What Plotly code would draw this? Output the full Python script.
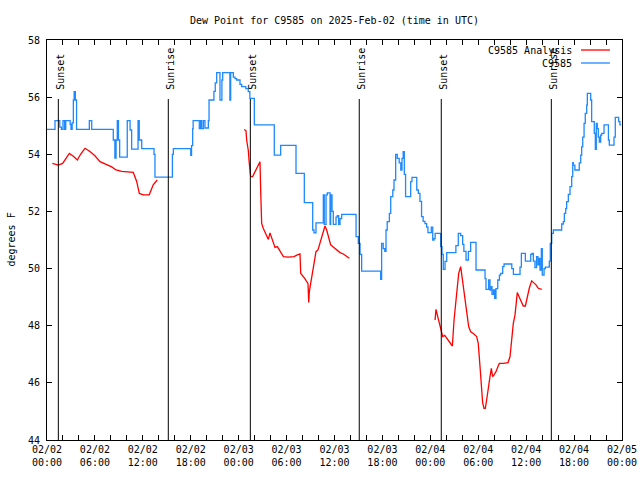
import datetime as dt
import plotly.graph_objects as go

# ---- data (hours since 2025-02-02 00:00 UTC, dew point in deg F) ----
blue_hours = [
    0.0, 1.0, 1.6, 1.8, 2.0, 2.2, 2.35, 2.9, 3.0, 3.15,
    3.3, 3.4, 3.55, 3.7, 5.3, 5.6, 8.3, 8.5, 8.65, 8.8,
    8.95, 9.1, 10.05, 10.4, 10.6, 11.4, 11.55, 11.86, 13.4, 13.52,
    15.7, 15.82, 18.0, 18.1, 18.24, 18.3, 19.07, 19.24, 19.37, 19.58,
    19.78, 20.2, 20.29, 20.9, 21.07, 21.25, 21.66, 21.9, 22.0, 22.9,
    23.0, 23.33, 23.54, 23.75, 24.17, 24.38, 24.9, 25.2, 25.4, 25.96,
    28.46, 29.26, 31.18, 32.22, 33.27, 33.43, 33.68, 34.6, 34.72, 34.94,
    35.1, 35.44, 35.52, 35.69, 35.85, 36.19, 36.35, 36.52, 36.69, 36.9,
    38.7, 38.98, 39.2, 39.4, 41.78, 41.9, 42.1, 42.3, 42.45, 42.6,
    42.87, 43.04, 43.3, 43.45, 43.66, 43.86, 44.1, 44.3, 44.45, 44.6,
    44.74, 44.9, 45.54, 45.7, 46.3, 46.5, 46.7, 46.9, 47.1, 47.33,
    47.54, 47.7, 48.12, 48.3, 48.46, 48.6, 49.3, 49.46, 49.62, 49.84,
    50.05, 51.2, 51.5, 51.8, 52.05, 52.2, 52.47, 52.76, 53.05, 53.72,
    54.85, 54.97, 55.3, 55.47, 55.64, 55.72, 55.9, 56.06, 56.22, 56.44,
    56.65, 56.81, 57.06, 57.23, 58.2, 58.4, 59.23, 59.4, 59.9, 60.57,
    60.73, 60.9, 61.1, 61.3, 61.48, 61.6, 61.73, 61.9, 62.02, 62.24,
    62.4, 62.9, 63.02, 63.2, 63.4, 64.45, 64.65, 64.78, 64.95, 65.07,
    65.28, 65.49, 65.7, 65.83, 65.9, 66.1, 66.65, 66.83, 66.95, 67.08,
    67.25, 67.4, 67.58, 67.66, 68.08, 68.2, 68.53, 68.66, 68.78, 68.9,
    69.03, 69.16, 69.33, 69.46, 69.75, 70.3, 70.41, 71.0, 71.16, 71.58,
    71.74, 71.9,
]
blue_dewpt = [
    54.87, 55.18, 54.95, 54.87, 55.18, 54.87, 55.18, 55.05, 54.87, 55.1,
    55.9, 56.19, 55.9, 54.87, 55.18, 54.87, 54.5, 53.87, 54.5, 55.18,
    54.5, 53.9, 55.18, 54.85, 54.18, 55.18, 54.5, 54.2, 54.0, 53.2,
    54.0, 54.2, 53.96, 54.3, 54.9, 55.18, 54.9, 55.18, 54.9, 55.18,
    54.92, 55.18, 55.9, 56.2, 56.5, 56.86, 55.9, 56.6, 56.86, 55.9,
    56.86, 56.7, 56.65, 56.6, 56.45, 56.37, 56.3, 56.19, 55.96, 55.03,
    53.97, 54.31, 53.33, 52.31, 51.35, 51.25, 51.6, 52.58, 51.55, 52.58,
    52.65, 51.55, 52.58, 52.0, 51.55, 51.8, 51.85, 51.55, 51.75, 51.9,
    51.12, 50.88, 50.5, 49.91, 49.62, 50.88, 50.7, 50.6, 51.35, 51.64,
    51.93, 52.52, 52.75, 53.1, 54.0, 53.86, 53.7, 53.45, 53.86, 54.09,
    53.3, 52.52, 53.04, 53.19, 52.75, 52.63, 52.35, 51.82, 51.65, 51.57,
    51.45, 51.26, 51.45, 51.0, 51.05, 51.23, 50.77, 50.5, 49.97, 50.25,
    50.56, 50.8, 51.23, 51.15, 50.85, 50.6, 50.3, 50.6, 50.92, 49.95,
    49.65, 49.27, 49.6, 49.25, 49.37, 49.1, 49.25, 48.96, 49.3, 49.6,
    49.77, 49.83, 50.07, 50.16, 50.0, 49.8, 50.05, 50.53, 50.26, 50.5,
    50.53, 50.26, 50.03, 50.42, 50.13, 50.36, 49.95, 50.7, 49.77, 50.0,
    50.05, 50.26, 50.88, 51.23, 51.35, 51.56, 51.64, 51.93, 52.1, 52.34,
    52.6, 52.87, 53.22, 53.71, 53.62, 53.45, 53.7, 53.97, 54.26, 54.6,
    55.08, 55.43, 55.72, 56.13, 55.9, 55.14, 54.73, 54.17, 55.08, 54.9,
    54.6, 54.43, 54.67, 54.73, 55.03, 54.5, 54.32, 54.6, 55.29, 55.14,
    55.03, 55.03,
]

red_hours_1 = [0.67, 1.42, 1.96, 2.8, 3.3, 3.8, 4.2, 4.76, 5.38, 6.0,
               6.64, 7.47, 8.1, 8.64, 9.35, 10.8, 11.23, 11.56, 12.06, 12.8,
               13.3, 13.8]
red_dewpt_1 = [53.68, 53.62, 53.68, 54.03, 53.93, 53.8, 54.0, 54.21, 54.1, 53.95,
               53.74, 53.65, 53.56, 53.45, 53.4, 53.37, 53.05, 52.63, 52.58, 52.58,
               52.93, 53.1]
red_hours_2 = [24.7, 24.92, 25.0, 25.2, 25.33, 25.5, 25.75, 26.05, 26.46, 26.67,
               26.76, 26.88, 27.09, 27.3, 27.5, 27.72, 27.92, 28.13, 28.34, 28.55,
               28.84, 29.1, 29.39, 29.6, 30.2, 30.93, 31.35, 31.68, 31.77, 32.1,
               32.3, 32.52, 32.68, 32.77, 32.85, 33.02, 33.27, 33.43, 33.68, 33.93,
               34.18, 34.4, 34.6, 34.81, 35.02, 35.23, 35.52, 35.77, 36.06, 36.35,
               36.69, 37.1, 37.44, 37.86]
red_dewpt_2 = [54.87, 54.82, 54.5, 54.15, 53.68, 53.22, 53.22, 53.4, 53.63, 53.74,
               52.69, 51.58, 51.4, 51.28, 51.17, 51.02, 51.25, 51.05, 50.88, 50.74,
               50.77, 50.65, 50.53, 50.42, 50.4, 50.42, 50.48, 50.51, 49.83, 49.74,
               49.65, 49.54, 49.48, 48.81, 49.2, 49.48, 49.95, 50.3, 50.59, 50.65,
               50.88, 51.05, 51.28, 51.49, 51.35, 51.12, 50.83, 50.77, 50.71, 50.63,
               50.56, 50.51, 50.44, 50.36]
red_hours_3 = [48.59, 48.71, 48.88, 49.05, 49.21, 49.38, 49.55, 49.8, 50.05, 50.3,
               50.55, 50.76, 50.97, 51.22, 51.38, 51.55, 51.8, 52.05, 52.3, 52.55,
               52.8, 53.05, 53.38, 53.8, 54.0, 54.22, 54.43, 54.55, 54.72, 54.88,
               55.05, 55.26, 55.47, 55.64, 55.8, 55.97, 56.22, 56.47, 56.64, 57.14,
               57.73, 57.98, 58.19, 58.39, 58.6, 58.89, 59.14, 59.4, 59.64, 59.9,
               60.14, 60.39, 60.69, 60.98, 61.23, 61.52, 61.95]
red_dewpt_3 = [48.2, 48.57, 48.37, 48.2, 48.03, 47.85, 47.62, 47.66, 47.56, 47.48,
               47.38, 47.29, 48.2, 48.9, 49.37, 49.83, 50.07, 49.54, 48.9, 48.43,
               47.97, 47.79, 47.73, 47.62, 47.38, 46.57, 45.87, 45.31, 45.11, 45.11,
               45.4, 45.87, 46.22, 46.51, 46.22, 46.28, 46.39, 46.57, 46.68, 46.68,
               46.71, 46.92, 47.56, 48.08, 48.37, 49.16, 49.0, 48.84, 48.69, 48.69,
               49.02, 49.31, 49.57, 49.51, 49.43, 49.31, 49.27]

sun_hours = [1.42, 15.19, 25.46, 39.1, 49.37, 63.15]
sun_labels = ["Sunset", "Sunrise", "Sunset", "Sunrise", "Sunset", "Sunrise"]

y_ticks = [44, 46, 48, 50, 52, 54, 56, 58]
title_text = "Dew Point for C9585 on 2025-Feb-02 (time in UTC)"

# ---- build ----
base = dt.datetime(2025, 2, 2, 0, 0)


def to_time(h):
    return base + dt.timedelta(hours=h)


assert len(blue_hours) == len(blue_dewpt)
red_x, red_y = [], []
for hs, vs in [(red_hours_1, red_dewpt_1), (red_hours_2, red_dewpt_2), (red_hours_3, red_dewpt_3)]:
    assert len(hs) == len(vs)
    red_x += [to_time(h) for h in hs] + [None]
    red_y += list(vs) + [None]

FONT = "DejaVu Sans Mono"
BLUE = "#1E88FF"
RED = "#FF0000"

W, H = 640, 480
ML, MR, MT, MB = 47, 18, 40, 40

fig = go.Figure()
fig.add_trace(go.Scatter(x=red_x, y=red_y, mode="lines", line=dict(color=RED, width=1.3),
                         connectgaps=False, showlegend=False, name="C9585 Analysis"))
fig.add_trace(go.Scatter(x=[to_time(h) for h in blue_hours], y=blue_dewpt, mode="lines",
                         line=dict(color=BLUE, width=1.3, shape="hv"), showlegend=False, name="C9585"))

tick_hours = list(range(0, 73, 2))
tickvals = [to_time(h) for h in tick_hours]
ticktext = [(to_time(h).strftime("%m/%d") + "<br>" + to_time(h).strftime("%H:%M")) if h % 6 == 0 else ""
            for h in tick_hours]

shapes = []
annotations = []
for h, lab in zip(sun_hours, sun_labels):
    t = to_time(h)
    shapes.append(dict(type="line", xref="x", yref="paper", x0=t, x1=t, y0=0, y1=0.8525,
                       line=dict(color="black", width=1), layer="above"))
    annotations.append(dict(x=t, y=0.87, xref="x", yref="paper", text=lab, textangle=-90,
                            showarrow=False, xanchor="center", yanchor="bottom", xshift=1.5,
                            font=dict(family=FONT, size=10, color="black")))

# legend (gnuplot style: text, then sample line)
for i, (lab, col) in enumerate([("C9585 Analysis", RED), ("C9585", BLUE)]):
    yy = 0.975 - i * 0.0325
    annotations.append(dict(x=0.9165, y=yy, xref="paper", yref="paper", text=lab, showarrow=False,
                            xanchor="right", yanchor="middle",
                            font=dict(family=FONT, size=10, color="black")))
    shapes.append(dict(type="line", xref="paper", yref="paper", x0=0.9287, x1=0.979, y0=yy, y1=yy,
                       line=dict(color=col, width=1.3)))

annotations.append(dict(x=(10.5 - ML) / 575, y=0.5, xref="paper", yref="paper", text="degrees F",
                        textangle=-90, showarrow=False, xanchor="center", yanchor="middle",
                        font=dict(family=FONT, size=10, color="black")))

fig.update_layout(
    width=W, height=H,
    margin=dict(l=ML, r=MR, t=MT, b=MB, autoexpand=False),
    paper_bgcolor="white", plot_bgcolor="white",
    font=dict(family=FONT, size=10, color="black"),
    title=dict(text=title_text, x=(ML + 575 / 2) / W, xanchor="center", y=1 - 20 / H,
               yanchor="middle", font=dict(family=FONT, size=10, color="black")),
    shapes=shapes, annotations=annotations, showlegend=False,
)
fig.update_xaxes(
    type="date", range=[to_time(0), to_time(72)], automargin=False,
    tickmode="array", tickvals=tickvals, ticktext=ticktext,
    ticks="inside", ticklen=5, tickcolor="black", tickwidth=1,
    showline=True, linecolor="black", linewidth=1, mirror="ticks",
    showgrid=False, zeroline=False, tickfont=dict(family=FONT, size=10, color="black"),
)
fig.update_yaxes(
    range=[44, 58], tickmode="array", tickvals=y_ticks, ticktext=[str(v) for v in y_ticks],
    automargin=False,
    ticks="inside", ticklen=5, tickcolor="black", tickwidth=1,
    showline=True, linecolor="black", linewidth=1, mirror="ticks",
    showgrid=False, zeroline=False, ticklabelstandoff=4,
    tickfont=dict(family=FONT, size=10, color="black"),
)

fig.write_html("out.html", config={"displayModeBar": False},
               post_script="document.body.style.margin='0';")
